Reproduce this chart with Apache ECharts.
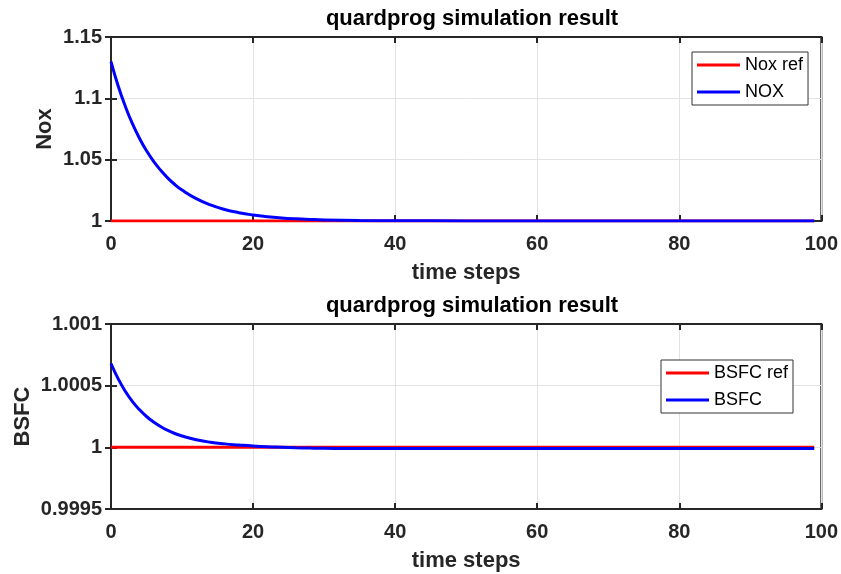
<!DOCTYPE html>
<html><head><meta charset="utf-8">
<script src="https://cdn.jsdelivr.net/npm/echarts@6/dist/echarts.min.js"></script>
<style>html,body{margin:0;padding:0;background:#fff}#c{width:841px;height:574px}</style>
</head><body><div id="c"></div>
<script>
// ---- data ----
const titleText = 'quardprog simulation result';
const xLabel = 'time steps';
const noxSteps  = [0,1,2,3,4,5,6,7,8,9,10,12,14,16,18,20,22,24,26,28,30,35,40,50,60,70,80,90,99];
const noxValues = [1.130,1.1103,1.0937,1.0795,1.0675,1.0573,1.0486,1.0413,1.0350,1.0297,1.0252,1.0182,1.0131,1.0094,1.0068,1.0049,1.0035,1.0025,1.0018,1.0013,1.0009,1.0004,1.0002,1.0001,1.0001,1.0001,1.0001,1.0001,1.0001];
const noxRefSteps  = [0,99];
const noxRefValues = [1,1];
const bsfcSteps  = [0,1,2,3,4,5,6,7,8,9,10,12,14,16,18,20,22,24,26,28,30,35,40,50,60,70,80,90,99];
const bsfcValues = [1.00068,1.000557,1.000456,1.000373,1.000306,1.000250,1.000205,1.000168,1.000137,1.000112,1.000092,1.000062,1.000041,1.000028,1.000019,1.000011,1.000005,1.000001,0.999997,0.999994,0.999992,0.99999,0.99999,0.99999,0.99999,0.99999,0.99999,0.99999,0.99999];
const bsfcRefSteps  = [0,99];
const bsfcRefValues = [1,1];
const xTicks = [0,20,40,60,80,100];
const noxTicks = [1,1.05,1.1,1.15];
const bsfcTicks = [0.9995,1,1.0005,1.001];

const pairs = (xs, ys) => xs.map((x, i) => [x, ys[i]]);
const FONT = 'Liberation Sans';
const DARK = '#262626';
const grids = [
  {left: 111, right: 18, top: 37, height: 184, show: true, borderColor: DARK, borderWidth: 2, backgroundColor: '#fff'},
  {left: 111, right: 18, top: 324, height: 185, show: true, borderColor: DARK, borderWidth: 2, backgroundColor: '#fff'}
];
function xAx(gi, main) {
  return {
    type: 'value', gridIndex: gi, min: xTicks[0], max: xTicks[xTicks.length-1], interval: xTicks[1]-xTicks[0],
    position: main ? 'bottom' : 'top',
    name: main ? xLabel : '', nameLocation: 'middle', nameGap: 41,
    nameTextStyle: {fontFamily: FONT, fontWeight: 'bold', fontSize: 22, color: DARK},
    axisLine: {show: true, lineStyle: {color: DARK, width: 2}},
    axisTick: {show: true, inside: true, length: 6, lineStyle: {color: DARK, width: 2}},
    axisLabel: {show: main, margin: 13, fontFamily: FONT, fontWeight: 'bold', fontSize: 20, color: DARK},
    splitLine: {show: main, lineStyle: {color: '#e3e3e3', width: 1}}
  };
}
function yAx(gi, main, ticks, name, gap) {
  return {
    type: 'value', gridIndex: gi, min: ticks[0], max: ticks[ticks.length-1], interval: +(ticks[1]-ticks[0]).toFixed(6),
    position: main ? 'left' : 'right',
    name: main ? name : '', nameLocation: 'middle', nameGap: gap, nameMoveOverlap: false,
    nameTextStyle: {fontFamily: FONT, fontWeight: 'bold', fontSize: 22, color: DARK},
    axisLine: {show: true, lineStyle: {color: DARK, width: 2}},
    axisTick: {show: true, inside: true, length: 6, lineStyle: {color: DARK, width: 2}},
    axisLabel: {show: main, margin: 9, fontFamily: FONT, fontWeight: 'bold', fontSize: 20, color: DARK,
      formatter: v => String(parseFloat(v.toFixed(5)))},
    splitLine: {show: main, lineStyle: {color: '#e3e3e3', width: 1}}
  };
}
function line(name, data, xi, yi, color, z) {
  return {name, type: 'line', data, xAxisIndex: xi, yAxisIndex: yi, smooth: true, symbol: 'none', z,
    lineStyle: {color, width: 3}, itemStyle: {color}, animation: false};
}
const legendCommon = {orient: 'vertical', backgroundColor: '#fff', borderColor: '#333', borderWidth: 1,
  borderRadius: 0, padding: [4, 5, 4, 5], itemGap: 9, itemWidth: 43, itemHeight: 3, icon: 'rect',
  textStyle: {fontFamily: FONT, fontSize: 18, lineHeight: 18, color: '#000'}};
const chart = echarts.init(document.getElementById('c'), null, {renderer: 'canvas'});
chart.setOption({
  backgroundColor: '#fff',
  animation: false,
  title: [
    {text: titleText, left: 467, top: 3, textAlign: 'center', textStyle: {fontFamily: FONT, fontWeight: 'bold', fontSize: 22, color: '#000'}},
    {text: titleText, left: 467, top: 290, textAlign: 'center', textStyle: {fontFamily: FONT, fontWeight: 'bold', fontSize: 22, color: '#000'}}
  ],
  grid: grids,
  xAxis: [xAx(0, true), xAx(0, false), xAx(1, true), xAx(1, false)],
  yAxis: [yAx(0, true, noxTicks, 'Nox', 55), yAx(0, false, noxTicks), yAx(1, true, bsfcTicks, 'BSFC', 77), yAx(1, false, bsfcTicks)],
  legend: [
    Object.assign({}, legendCommon, {data: ['Nox ref', 'NOX'], left: 692, top: 52}),
    Object.assign({}, legendCommon, {data: ['BSFC ref', 'BSFC'], left: 661, top: 360})
  ],
  series: [
    line('Nox ref', pairs(noxRefSteps, noxRefValues), 0, 0, '#ff0000', 2),
    line('NOX', pairs(noxSteps, noxValues), 0, 0, '#0000ff', 3),
    line('BSFC ref', pairs(bsfcRefSteps, bsfcRefValues), 2, 2, '#ff0000', 2),
    line('BSFC', pairs(bsfcSteps, bsfcValues), 2, 2, '#0000ff', 3)
  ]
});
</script></body></html>
